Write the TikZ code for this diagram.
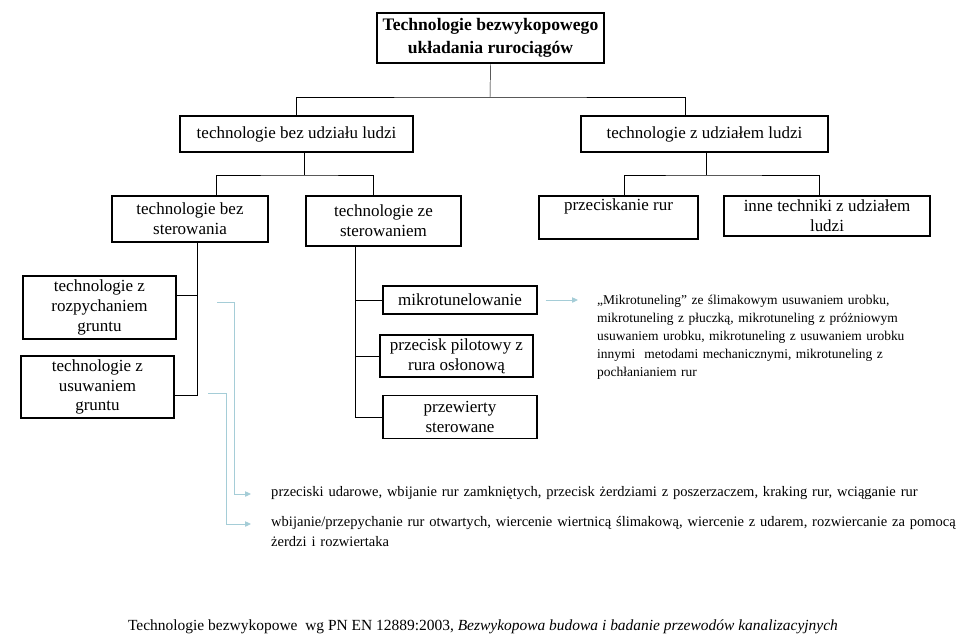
\documentclass[tikz,border=0pt]{standalone}
\usepackage{fontspec}
\setmainfont{Liberation Serif}
\usetikzlibrary{arrows.meta}

\definecolor{linkblue}{RGB}{165,205,215}

\tikzset{
    box/.style 2 args={draw, line width=0.9pt, align=center, inner sep=1pt,
        minimum width=#1cm, minimum height=#2cm,
        font=\fontsize{14.5}{17}\selectfont},
    link/.style={draw=linkblue, line width=0.8pt, -{Triangle[length=5pt, width=4.5pt]}},
    note/.style={anchor=mid west, inner sep=0pt, align=left, text width=21cm,
        font=\fontsize{12.4}{17}\selectfont},
}

\begin{document}
\begin{tikzpicture}[x=0.03cm, y=-0.03cm]
    \useasboundingbox (0, 0) rectangle (960, 637);

    % boxes
    \node (top) [box={6.81}{1.5}, line width=1.6pt, font=\fontsize{15}{19.5}\selectfont\bfseries]
        at (490.5, 38) {Technologie bezwykopowego\\układania rurociągów};
    \node (bezl) [box={6.99}{1.08}] at (296.5, 134) {technologie bez udziału ludzi};
    \node (zl) [box={7.41}{1.08}] at (704.5, 134) {technologie z udziałem ludzi};

    \node (bezst) [box={4.68}{1.38}] at (190, 219) {technologie bez\\sterowania};
    \node (zest) [box={4.65}{1.5}] at (383.5, 221) {technologie ze\\sterowaniem};
    \node (przec) [box={4.77}{1.29}] at (618.5, 217.5) {przeciskanie rur\\\strut};
    \node (inne) [box={6.18}{1.2}] at (827, 216) {inne techniki z udziałem\\ludzi};

    \node (rozp) [box={4.59}{1.89}] at (99.5, 307.5) {technologie z\\rozpychaniem\\gruntu};
    \node (usuw) [box={4.59}{1.86}] at (97.5, 387) {technologie z\\usuwaniem\\gruntu};

    \node (mikro) [box={4.62}{0.84}] at (460, 300) {mikrotunelowanie};
    \node (pilot) [box={4.59}{1.26}] at (456.5, 356) {przecisk pilotowy z\\rura osłonową};
    \node (przew) [box={4.62}{1.29}] at (460, 417) {przewierty\\sterowane};

    % texts
    \node (mtxt) [note, text width=10cm, anchor=base west, font=\fontsize{11.5}{15.4}\selectfont]
        at (597, 304)
        {„Mikrotuneling” ze ślimakowym usuwaniem urobku,\\
         mikrotuneling z płuczką, mikrotuneling z próżniowym\\
         usuwaniem urobku, mikrotuneling z usuwaniem urobku\\
         innymi~ metodami mechanicznymi, mikrotuneling z\\
         pochłanianiem rur};
    \node (udar) [note] at (271, 494)
        {przeciski udarowe, wbijanie rur zamkniętych, przecisk żerdziami z poszerzaczem, kraking rur, wciąganie rur};
    \node (wbij) [note] at (271, 524)
        {wbijanie/przepychanie rur otwartych, wiercenie wiertnicą ślimakową, wiercenie z udarem, rozwiercanie za pomocą\\
         żerdzi i rozwiertaka};

    \node (foot) [inner sep=0pt, font=\fontsize{13.2}{15}\selectfont] at (483, 627)
        {Technologie bezwykopowe~ wg PN EN 12889:2003, \textit{Bezwykopowa budowa i badanie przewodów kanalizacyjnych}};

    % tree lines
    \coordinate (b1) at (490, 97);
    \coordinate (b2) at (304, 175);
    \coordinate (b3) at (706, 175);
    \coordinate (b4) at (197, 395);
    \coordinate (b5) at (355, 0);

    \draw (top.south) -- (b1);
    \draw (bezl.north) |- (b1) -| (zl.north -| 685, 0);

    \draw (bezl.south -| b2) -- (b2);
    \draw (bezst.north -| 216, 0) |- (b2) -| (zest.north -| 373, 0);

    \draw (zl.south -| b3) -- (b3);
    \draw (przec.north -| 624, 0) |- (b3) -| (inne.north -| 819, 0);

    \draw (bezst.south -| b4) -- (b4) -- (usuw.east |- b4);
    \draw (b4 |- 0, 295) -- (rozp.east |- 0, 295);

    \draw (zest.south -| b5) -- (b5 |- przew.west);
    \foreach \n in {mikro, pilot, przew}
        \draw (b5 |- \n.west) -- (\n.west);

    % blue arrows
    \coordinate (a1) at (217, 302);
    \coordinate (a2) at (208, 393);
    \draw [link, shorten <=0.24cm, shorten >=0.57cm] (mikro.east) -- (mikro.east -| mtxt.west);
    \draw [link, shorten >=0.6cm] (a1) -| ([xshift=-1.11cm]udar.mid west) -- (udar.mid west);
    \draw [link, shorten >=0.6cm] (a2) -| ([xshift=-1.35cm]wbij.mid west) -- (wbij.mid west);

\end{tikzpicture}
\end{document}
